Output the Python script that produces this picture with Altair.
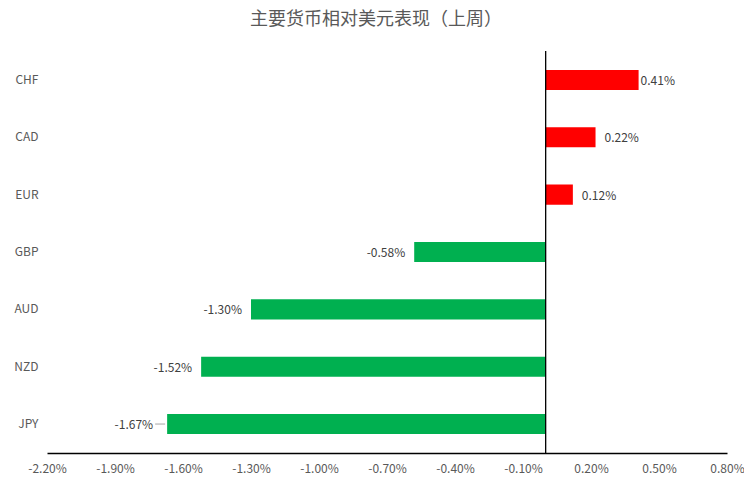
import altair as alt
import pandas as pd

currencies = ["CHF", "CAD", "EUR", "GBP", "AUD", "NZD", "JPY"]
values = [0.41, 0.22, 0.12, -0.58, -1.30, -1.52, -1.67]
tick_values = [-2.2, -1.9, -1.6, -1.3, -1.0, -0.7, -0.4, -0.1, 0.2, 0.5, 0.8]
title_text = "主要货币相对美元表现（上周）"

df = pd.DataFrame({"currency": currencies, "value": values})
df["label"] = df["value"].map(lambda v: f"{v:.2f}%")
df["sign"] = df["value"].map(lambda v: "pos" if v >= 0 else "neg")

FONT = "Noto Sans CJK SC"
GRAY = "#595959"

x_enc = alt.X(
    "value:Q",
    scale=alt.Scale(domain=[-2.2, 0.8], nice=False, zero=False),
    axis=alt.Axis(
        values=tick_values,
        labelExpr="(datum.value < 0 ? '-' : '') + format(abs(datum.value), '.2f') + '%'",
        title=None,
        grid=False,
        ticks=False,
        tickSize=0,
        labelFlush=False,
        labelOverlap=False,
        domainColor="black",
        domainWidth=1.3,
        labelColor=GRAY,
        labelFontSize=12,
        labelFont=FONT,
        labelPadding=10,
    ),
)
y_enc = alt.Y(
    "currency:N",
    sort=currencies,
    scale=alt.Scale(paddingInner=0.65, paddingOuter=0.33),
    axis=alt.Axis(
        title=None,
        domain=False,
        ticks=False,
        tickSize=0,
        labelAlign="right",
        labelPadding=9,
        labelColor=GRAY,
        labelFontSize=12,
        labelFont=FONT,
    ),
)

base = alt.Chart(df)

bars = base.mark_bar().encode(
    x=x_enc,
    x2=alt.datum(0),
    y=y_enc,
    color=alt.Color(
        "sign:N",
        scale=alt.Scale(domain=["pos", "neg"], range=["#FF0000", "#00B050"]),
        legend=None,
    ),
)

zero = alt.Chart(pd.DataFrame({"z": [0]})).mark_rule(color="black", strokeWidth=1.3).encode(
    x=alt.X("z:Q")
)

txt_style = dict(fontSize=12, font=FONT, color="#404040", baseline="middle", dy=1)
ysort = alt.Y("currency:N", sort=currencies)

pos_lbl = base.transform_filter("datum.value >= 0 && datum.currency != 'CHF'").mark_text(
    align="left", dx=9, **txt_style
).encode(x="value:Q", y=ysort, text="label:N")

chf_lbl = base.transform_filter("datum.currency == 'CHF'").mark_text(
    align="left", dx=2, **txt_style
).encode(x="value:Q", y=ysort, text="label:N")

neg_lbl = base.transform_filter("datum.value < 0 && datum.currency != 'JPY'").mark_text(
    align="right", dx=-9, **txt_style
).encode(x="value:Q", y=ysort, text="label:N")

jpy_lbl = base.transform_filter("datum.currency == 'JPY'").mark_text(
    align="right", dx=-14, **txt_style
).encode(x="value:Q", y=ysort, text="label:N")

jpy_leader = base.transform_filter("datum.currency == 'JPY'").mark_rule(
    color="#A6A6A6", strokeWidth=1, xOffset=-12, x2Offset=-2
).encode(x="value:Q", x2="value:Q", y=ysort)

title_mark = alt.Chart(pd.DataFrame({"t": [title_text]})).mark_text(
    font=FONT, fontSize=18, color=GRAY, align="center", baseline="middle"
).encode(text="t:N", x=alt.value(329), y=alt.value(-31))

chart = (
    alt.layer(bars, zero, pos_lbl, chf_lbl, neg_lbl, jpy_lbl, jpy_leader, title_mark)
    .properties(
        width=680,
        height=402,
        autosize=alt.AutoSizeParams(type="none"),
        padding={"left": 39, "top": 43, "right": 17, "bottom": 30},
    )
    .configure_view(stroke=None)
)

chart.save("out.html", embed_options={"renderer": "svg", "actions": False})
